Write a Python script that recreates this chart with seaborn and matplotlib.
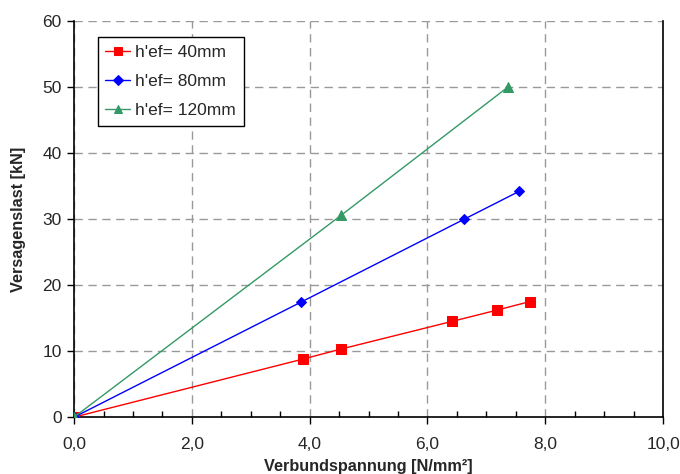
import matplotlib
matplotlib.use("Agg")
import matplotlib.pyplot as plt
from matplotlib.ticker import MultipleLocator, FuncFormatter
import seaborn as sns
import pandas as pd

sns.set_theme(style="white")
plt.rcParams['font.family'] = ['Liberation Sans', 'DejaVu Sans']

# Bond stress [N/mm²] and failure load [kN] for each embedment depth
x_40 = [0.0, 3.89, 4.53, 6.42, 7.18, 7.74]
y_40 = [0.0, 8.8, 10.3, 14.5, 16.2, 17.5]
x_80 = [0.0, 3.85, 6.62, 7.56]
y_80 = [0.0, 17.4, 29.95, 34.2]
x_120 = [0.0, 4.54, 7.37]
y_120 = [0.0, 30.6, 50.0]

labels = ["h'ef= 40mm", "h'ef= 80mm", "h'ef= 120mm"]
colors = ["#FF0000", "#0000FF", "#339966"]
markers = ["s", "D", "^"]
msizes = [7, 5.5, 7]

fig = plt.figure(figsize=(6.8, 4.74), dpi=100)
ax = fig.add_axes([0.109, 0.12, 0.866, 0.836])

series = [(x_40, y_40), (x_80, y_80), (x_120, y_120)]
for (xs, ys), lab, col, mk, ms in zip(series, labels, colors, markers, msizes):
    df = pd.DataFrame({"x": xs, "y": ys})
    sns.lineplot(data=df, x="x", y="y", sort=False, ax=ax, color=col,
                 marker=mk, markersize=ms, markeredgecolor=col,
                 linewidth=1.0, label=lab, zorder=3)

ax.set_xlim(0, 10)
ax.set_ylim(0, 60)
ax.xaxis.set_major_locator(MultipleLocator(2))
ax.xaxis.set_minor_locator(MultipleLocator(0.5))
ax.yaxis.set_major_locator(MultipleLocator(10))
ax.xaxis.set_major_formatter(FuncFormatter(lambda v, p: f"{v:.1f}".replace(".", ",")))
ax.yaxis.set_major_formatter(FuncFormatter(lambda v, p: f"{v:.0f}"))

ax.grid(True, which="major", color="#999999", linestyle=(0, (6, 4)), linewidth=1.0)
for side in ["left", "bottom", "right"]:
    ax.spines[side].set_visible(True)
    ax.spines[side].set_color("black")
    ax.spines[side].set_linewidth(1.2)
ax.spines["top"].set_visible(False)

ax.tick_params(axis="x", which="major", direction="out", length=5, width=1,
               color="black", labelsize=12.5, pad=9, bottom=True)
ax.tick_params(axis="x", which="minor", direction="in", length=4, width=1,
               color="black", bottom=True)
ax.tick_params(axis="y", which="major", direction="out", length=5, width=1,
               color="black", labelsize=12.5, pad=4, left=True)

ax.set_xlabel("Verbundspannung [N/mm²]", fontsize=11.7, fontweight="bold", labelpad=5)
ax.set_ylabel("Versagenslast [kN]", fontsize=11.7, fontweight="bold", labelpad=12)

leg = ax.legend(loc="upper left", bbox_to_anchor=(0.04, 0.96), fontsize=12.5,
                frameon=True, fancybox=False, edgecolor="black", framealpha=1,
                borderpad=0.45, labelspacing=0.8, handlelength=1.4, handletextpad=0.3,
                borderaxespad=0)
leg.get_frame().set_linewidth(1.0)
for h in leg.legend_handles:
    h.set_markersize(5.5)

fig.savefig("out.png", dpi=100)
